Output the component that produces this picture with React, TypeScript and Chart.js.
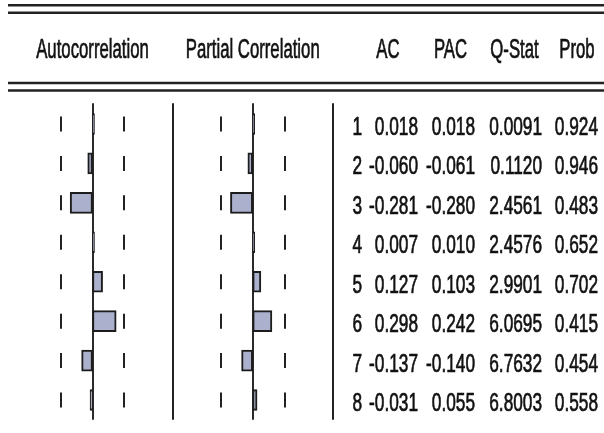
import React, { useEffect, useRef } from "react";
import { Chart, registerables } from "chart.js";

Chart.register(...registerables);

const lags = ["1", "2", "3", "4", "5", "6", "7", "8"];
const acValues = [0.018, -0.06, -0.281, 0.007, 0.127, 0.298, -0.137, -0.031];
const pacValues = [0.018, -0.061, -0.28, 0.01, 0.103, 0.242, -0.14, 0.055];
const qStatLabels = ["0.0091", "0.1120", "2.4561", "2.4576", "2.9901", "6.0695", "6.7632", "6.8003"];
const probLabels = ["0.924", "0.946", "0.483", "0.652", "0.702", "0.415", "0.454", "0.558"];
const panelHeaders = ["Autocorrelation", "Partial Correlation"];
const tableHeaders = ["AC", "PAC", "Q-Stat", "Prob"];
const confBound = 0.4;

const W = 604;
const H = 433;
const PX_PER_UNIT = 79.5;
const AC_ZERO = 92.5;
const PAC_ZERO = 252.7;
const colRight = [362, 418, 475, 542, 598];
const headerCenters = [388, 450.5, 514.5, 577];
const LINE = "#222222";
const TEXT = "#121212";

function drawScaledText(ctx: CanvasRenderingContext2D, t: string, x: number, y: number, sx: number, align: CanvasTextAlign) {
  ctx.save();
  ctx.translate(x, y);
  ctx.scale(sx, 1);
  ctx.textAlign = align;
  ctx.textBaseline = "alphabetic";
  ctx.lineWidth = 0.7;
  ctx.strokeStyle = TEXT;
  ctx.fillText(t, 0, 0);
  ctx.strokeText(t, 0, 0);
  ctx.restore();
}

const tablePlugin = {
  id: "correlogram",
  beforeDatasetsDraw(chart: any) {
    const ctx: CanvasRenderingContext2D = chart.ctx;
    const xs = [chart.scales.x, chart.scales.x2];
    const yScale = chart.scales.y;
    const { top, bottom } = chart.chartArea;
    ctx.save();
    // header double rules
    ctx.strokeStyle = LINE;
    ctx.lineWidth = 2.5;
    [5.3, 12.8, 83, 90.6].forEach((yy) => {
      ctx.beginPath();
      ctx.moveTo(8, yy);
      ctx.lineTo(W, yy);
      ctx.stroke();
    });
    // zero lines and dividers
    xs.forEach((sc: any) => {
      ctx.strokeStyle = "#2a2a2a";
      ctx.lineWidth = 2;
      const z = Math.round(sc.getPixelForValue(0));
      ctx.beginPath();
      ctx.moveTo(z, top - 1);
      ctx.lineTo(z, bottom);
      ctx.stroke();
      ctx.strokeStyle = LINE;
      const d = Math.round(sc.getPixelForValue(1.01));
      ctx.beginPath();
      ctx.moveTo(d, top - 1);
      ctx.lineTo(d, bottom);
      ctx.stroke();
      // confidence dashes
      ctx.lineWidth = 2;
      lags.forEach((_, i) => {
        const yc = yScale.getPixelForValue(i);
        [-confBound, confBound].forEach((b) => {
          const bx = Math.round(sc.getPixelForValue(b));
          ctx.beginPath();
          ctx.moveTo(bx, yc - 7.5);
          ctx.lineTo(bx, yc + 7.5);
          ctx.stroke();
        });
      });
    });
    // headers
    ctx.fillStyle = TEXT;
    ctx.font = "27px 'Liberation Sans', Arial, sans-serif";
    drawScaledText(ctx, panelHeaders[0], xs[0].getPixelForValue(0), 58, 0.62, "center");
    drawScaledText(ctx, panelHeaders[1], xs[1].getPixelForValue(0), 58, 0.62, "center");
    tableHeaders.forEach((h, i) => drawScaledText(ctx, h, headerCenters[i], 58, 0.62, "center"));
    // table rows
    ctx.font = "25px 'Liberation Sans', Arial, sans-serif";
    lags.forEach((lag, i) => {
      const base = yScale.getPixelForValue(i) + 11;
      const cells = [lag, acValues[i].toFixed(3), pacValues[i].toFixed(3), qStatLabels[i], probLabels[i]];
      cells.forEach((c, j) => drawScaledText(ctx, c, colRight[j], base, 0.69, "right"));
    });
    ctx.restore();
  },
};

export default function App() {
  const ref = useRef<HTMLCanvasElement | null>(null);
  useEffect(() => {
    document.body.style.margin = "0";
    const canvas = ref.current!;
    const barStyle = {
      backgroundColor: "#abb1cd",
      borderColor: "#1c1c1c",
      borderWidth: 2,
      borderSkipped: false,
      barThickness: 21,
      minBarLength: 2,
      grouped: false,
    };
    const chart = new Chart(canvas, {
      type: "bar",
      data: {
        labels: lags,
        datasets: [
          { data: acValues, xAxisID: "x", yAxisID: "y", ...barStyle } as any,
          { data: pacValues, xAxisID: "x2", yAxisID: "y", ...barStyle } as any,
        ],
      },
      options: {
        indexAxis: "y",
        responsive: false,
        animation: false,
        devicePixelRatio: 1,
        layout: { padding: { top: 104.3, bottom: 13.3, left: 0, right: 0 } },
        scales: {
          x: { display: false, min: -AC_ZERO / PX_PER_UNIT, max: (W - AC_ZERO) / PX_PER_UNIT },
          x2: { display: false, position: "bottom", min: -PAC_ZERO / PX_PER_UNIT, max: (W - PAC_ZERO) / PX_PER_UNIT },
          y: { display: false, offset: true },
        },
        plugins: { legend: { display: false }, tooltip: { enabled: false } },
      },
      plugins: [tablePlugin],
    });
    return () => chart.destroy();
  }, []);
  return <canvas ref={ref} width={W} height={H} style={{ display: "block" }} />;
}
